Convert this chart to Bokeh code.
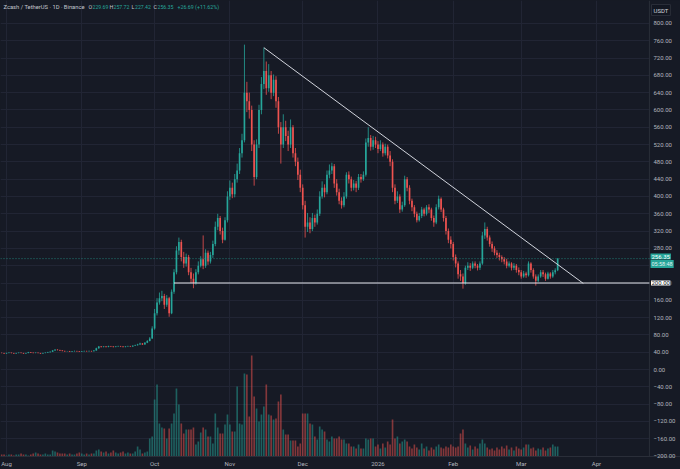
import numpy as np
import pandas as pd
from bokeh.plotting import figure
from bokeh.models import (ColumnDataSource, Range1d, FixedTicker, Label,
                          CustomJSTickFormatter, Span, BoxAnnotation)
from bokeh.embed import file_html
from bokeh.resources import INLINE

# ---------------- data ----------------
start_date = "2025-07-30"
first_open = 38.5

close_jul = [38, 37]
high_jul = [39.5, 38.5]
low_jul = [37.5, 36.5]
vol_jul = [2, 2]

close_aug = [38, 39, 38, 37, 38, 39, 38, 37, 38, 40, 39, 38, 39, 38, 37, 38, 39, 40, 41,
             44, 46, 45, 44, 43, 42, 42.4, 41, 42, 43, 42, 41]
high_aug = [39, 39.8, 39.5, 38.5, 38.7, 39.6, 39.5, 38.6, 38.8, 40.8, 40.6, 39.5, 39.7, 39.4, 38.5, 38.9, 39.8, 40.9, 42,
            45, 47.5, 47, 45.8, 44.6, 43.8, 43, 43, 42.8, 43.9, 43.5, 42.6]
low_aug = [36.5, 37.5, 37.2, 36.5, 36.6, 37.5, 37.4, 36.4, 36.7, 37.6, 38.4, 37.3, 37.6, 37.2, 36.3, 36.6, 37.5, 38.5, 39.5,
           40.5, 43.5, 44, 43, 42, 41, 41.2, 40.5, 40.7, 41.6, 41.3, 40.5]
vol_aug = [1, 2, 2, 1, 2, 2, 3, 2, 2, 1, 2, 3, 4, 3, 2, 2, 3, 2, 2, 6, 5, 4, 3, 3, 3, 2, 3, 2, 2, 3, 4]

close_sep = [42, 43, 42, 43, 42, 44, 49, 53, 52, 53, 52, 54, 53, 52, 53, 54, 53, 52, 53, 54, 53, 55,
             56, 58, 60, 58, 62, 66, 72, 95]
high_sep = [42.8, 43.8, 43.6, 44, 43.5, 44.8, 50.5, 54.5, 54, 54, 53.8, 55, 54.6, 53.8, 54, 55, 54.7, 53.6, 54, 55, 54.8, 56,
            57.5, 59.5, 62, 61, 63.5, 68, 75, 100]
low_sep = [40.6, 41.5, 41.4, 41.6, 41.2, 41.8, 43.5, 48, 51, 51.3, 51, 51.5, 52, 51, 51.4, 52.5, 52, 51, 51.3, 52.4, 52, 52.5,
           54.5, 55.5, 57.5, 57, 57.5, 61, 65, 71]
vol_sep = [3, 2, 3, 2, 3, 3, 6, 7, 5, 4, 5, 3, 4, 6, 4, 3, 4, 5, 3, 4, 3, 3, 5, 10, 7, 3, 4, 5, 18, 20]

close_oct = [130, 155, 165, 170, 150, 165, 130, 180, 225, 275, 295, 260, 245, 260, 225, 210, 200, 225, 240, 255,
             240, 270, 250, 265, 290, 330, 350, 320, 300, 345, 400]
high_oct = [140, 165, 178, 182, 175, 172, 168, 185, 232, 285, 305, 300, 272, 268, 265, 235, 222, 232, 250, 262,
            310, 278, 275, 272, 298, 342, 360, 355, 328, 352, 412]
low_oct = [92, 125, 150, 158, 140, 145, 122, 128, 175, 220, 265, 250, 235, 238, 218, 200, 188, 196, 220, 236,
           232, 235, 242, 245, 258, 285, 322, 312, 292, 298, 340]
vol_oct = [57, 72, 33, 29, 28, 18, 28, 33, 43, 68, 52, 33, 23, 27, 27, 27, 29, 12, 15, 24,
           29, 27, 20, 20, 13, 43, 29, 23, 23, 32, 42]

close_nov = [420, 405, 440, 460, 500, 530, 640, 620, 600, 520, 445, 520, 600, 660, 690, 650, 680, 640, 670, 620,
             560, 520, 560, 540, 520, 560, 500, 480, 450, 420]
high_nov = [437, 432, 452, 476, 512, 545, 751, 665, 640, 610, 530, 532, 612, 676, 744, 712, 706, 690, 682, 678,
            630, 572, 590, 575, 552, 578, 565, 512, 490, 462]
low_nov = [392, 396, 398, 432, 452, 490, 525, 595, 580, 505, 425, 440, 512, 590, 648, 635, 642, 625, 632, 605,
           545, 476, 512, 528, 505, 512, 490, 470, 438, 410]
vol_nov = [32, 25, 25, 70, 33, 32, 83, 82, 40, 101, 60, 48, 35, 42, 50, 72, 42, 41, 37, 38,
           55, 62, 27, 22, 22, 16, 16, 16, 10, 13]

close_dec = [380, 330, 340, 325, 350, 340, 360, 400, 420, 410, 450, 460, 470, 430, 410, 390, 380, 400, 450, 440,
             420, 430, 420, 445, 440, 450, 525, 535, 515, 530, 520]
high_dec = [428, 390, 362, 352, 362, 358, 370, 412, 435, 428, 460, 474, 478, 475, 440, 418, 398, 410, 456, 458,
            446, 438, 436, 452, 452, 458, 534, 560, 542, 540, 538]
low_dec = [370, 305, 318, 315, 320, 330, 335, 355, 395, 398, 405, 442, 452, 420, 402, 382, 372, 375, 395, 430,
           412, 414, 410, 415, 432, 436, 446, 515, 506, 508, 512]
vol_dec = [43, 43, 43, 33, 32, 20, 17, 30, 27, 25, 17, 15, 20, 18, 18, 20, 17, 17, 13, 13,
           10, 10, 8, 12, 8, 8, 18, 17, 18, 18, 10]

close_jan = [510, 520, 500, 515, 495, 480, 420, 390, 400, 370, 380, 440, 420, 390, 375, 360, 345, 355, 370, 360,
             375, 370, 350, 340, 375, 395, 370, 350, 320, 300, 290]
high_jan = [528, 530, 525, 522, 520, 505, 486, 428, 412, 405, 388, 448, 445, 426, 395, 380, 365, 362, 376, 374,
            380, 382, 374, 356, 382, 402, 398, 374, 355, 326, 308]
low_jan = [500, 505, 492, 495, 488, 470, 410, 382, 385, 362, 365, 376, 412, 382, 366, 352, 340, 342, 350, 354,
           356, 362, 344, 330, 336, 370, 364, 342, 312, 292, 280]
vol_jan = [12, 8, 13, 9, 15, 12, 37, 18, 20, 13, 15, 17, 15, 10, 8, 12, 9, 7, 13, 8,
           10, 6, 9, 7, 10, 12, 9, 8, 10, 9, 12]

close_feb = [260, 245, 220, 215, 200, 235, 240, 235, 245, 240, 235, 245, 310, 325, 305, 290, 280, 270, 265, 260,
             255, 250, 240, 245, 235, 240, 230, 225]
high_feb = [295, 266, 250, 230, 222, 240, 248, 246, 250, 250, 244, 250, 318, 340, 330, 310, 296, 285, 276, 270,
            264, 260, 256, 250, 248, 246, 244, 236]
low_feb = [252, 236, 210, 205, 187, 196, 230, 228, 232, 234, 229, 230, 242, 302, 298, 284, 272, 264, 258, 252,
           248, 243, 234, 236, 229, 230, 224, 218]
vol_feb = [10, 9, 10, 23, 27, 13, 9, 11, 7, 10, 8, 13, 17, 13, 9, 7, 8, 6, 9, 7,
           10, 8, 11, 7, 9, 6, 10, 8]

close_mar = [215, 222, 218, 245, 230, 215, 205, 215, 225, 220, 210, 222, 215, 225, 229.69, 256.35]
high_mar = [230, 228, 226, 250, 248, 234, 220, 220, 230, 230, 224, 226, 225, 230, 234, 257.72]
low_mar = [210, 212, 212, 215, 224, 210, 194, 202, 212, 214, 205, 208, 210, 212, 220, 227.42]
vol_mar = [7, 9, 12, 12, 8, 9, 6, 8, 7, 9, 6, 8, 9, 12, 10, 10]

# drawn annotations
trend_dates = ["2025-11-15T00:00", "2026-03-26T14:00"]
trend_prices = [744, 199]
support_dates = ["2025-10-09T00:00", "2026-04-22T19:00"]
support_prices = [200, 200]
last_price = 256.35

month_ticks = ["2025-08-01", "2025-09-01", "2025-10-01", "2025-11-01", "2025-12-01",
               "2026-01-01", "2026-02-01", "2026-03-01", "2026-04-01"]
price_ticks = list(range(-200, 801, 40))

header_name = "Zcash / TetherUS · 1D · Binance"
header_ohlc = [("O", "229.69"), ("H", "257.72"), ("L", "227.42"), ("C", "256.35")]
header_change = "+26.69 (+11.62%)"
countdown = "05:58:48"

# ---------------- assemble ----------------
close = np.array(close_jul + close_aug + close_sep + close_oct + close_nov + close_dec + close_jan + close_feb + close_mar, float)
high = np.array(high_jul + high_aug + high_sep + high_oct + high_nov + high_dec + high_jan + high_feb + high_mar, float)
low = np.array(low_jul + low_aug + low_sep + low_oct + low_nov + low_dec + low_jan + low_feb + low_mar, float)
vol = np.array(vol_jul + vol_aug + vol_sep + vol_oct + vol_nov + vol_dec + vol_jan + vol_feb + vol_mar, float)
opens = np.concatenate([[first_open], close[:-1]])
dates = pd.date_range(start_date, periods=len(close), freq="D")

UP = "#26a69a"
DOWN = "#ef5350"
BG = "#161a25"
GRID = "#212534"
TXT = "#b2b5be"

up = close >= opens
src = ColumnDataSource(dict(
    date=dates, open=opens, close=close, high=high, low=low, vol=vol,
    top=np.maximum(opens, close), bottom=np.minimum(opens, close),
    color=np.where(up, UP, DOWN),
))

day_ms = 24 * 3600 * 1000
aug1 = pd.Timestamp("2025-08-01")
x0 = aug1 - pd.Timedelta(days=2.47)
x1 = aug1 + pd.Timedelta(days=277.6)        # right edge incl. price-scale area
sep_date = aug1 + pd.Timedelta(days=264.8)  # plot / price-scale separator

p = figure(width=680, height=469, x_axis_type="datetime", y_axis_location="right",
           output_backend="svg", toolbar_location=None,
           x_range=Range1d(x0.to_pydatetime(), x1.to_pydatetime()),
           y_range=Range1d(-201, 853),
           min_border_left=0, min_border_top=0, min_border_right=0, min_border_bottom=13)
p.extra_y_ranges = {"vol": Range1d(0, 456)}
p.background_fill_color = BG
p.border_fill_color = BG
p.outline_line_color = None

# grid
p.xgrid.grid_line_color = GRID
p.ygrid.grid_line_color = GRID

# price-scale area (covers grid lines there)
p.add_layout(BoxAnnotation(left=sep_date.to_pydatetime(), fill_color=BG, fill_alpha=1.0,
                           line_color=None, level="underlay"))
p.add_layout(Span(location=sep_date.to_pydatetime(), dimension="height", line_color="#2a2e39",
                  line_width=1, level="underlay"))

# axes
month_ms = list(pd.DatetimeIndex(pd.to_datetime(month_ticks)).asi8 // 10**6)
p.xaxis.ticker = FixedTicker(ticks=[float(t) for t in month_ms])
p.xaxis.formatter = CustomJSTickFormatter(code="""
const d = new Date(tick);
const names = ["Jan","Feb","Mar","Apr","May","Jun","Jul","Aug","Sep","Oct","Nov","Dec"];
const m = d.getUTCMonth();
return m == 0 ? String(d.getUTCFullYear()) : names[m];
""")
p.yaxis.ticker = FixedTicker(ticks=price_ticks)
p.yaxis.formatter = CustomJSTickFormatter(code="""
if (Math.abs(tick - 240) < 1e-6) return "";
const s = Math.abs(tick).toFixed(2);
return tick < 0 ? "\u2212" + s : s;
""")
for ax in (p.xaxis[0], p.yaxis[0]):
    ax.major_tick_line_color = None
    ax.minor_tick_line_color = None
    ax.major_tick_out = 0
    ax.major_tick_in = 0
    ax.minor_tick_out = 0
    ax.minor_tick_in = 0
    ax.major_label_text_color = TXT
    ax.major_label_text_font = "Roboto"
    ax.major_label_text_font_size = "6px"
p.xaxis.axis_line_color = "#2a2e39"
p.yaxis.axis_line_color = None
p.yaxis.major_label_standoff = -27
p.xaxis.major_label_standoff = 3

# volume
p.vbar(x="date", width=0.68 * day_ms, top="vol", bottom=0, source=src, y_range_name="vol",
       fill_color="color", fill_alpha=0.5, line_color=None)

# candles
p.segment(x0="date", y0="low", x1="date", y1="high", source=src, line_color="color", line_width=0.8)
p.vbar(x="date", width=0.68 * day_ms, top="top", bottom="bottom", source=src,
       fill_color="color", line_color=None)

# price line
p.line(x=[x0.to_pydatetime(), sep_date.to_pydatetime()], y=[last_price, last_price],
       line_color=UP, line_alpha=0.7, line_dash="1 2", line_width=1)

# support and trend lines
p.line(x=pd.to_datetime(support_dates), y=support_prices, line_color="#e6e8ee", line_width=1)
p.line(x=pd.to_datetime(trend_dates), y=trend_prices, line_color="#d1d4dc", line_width=1)

# header
y_head = 837
p.add_layout(Label(x=3, y=y_head, x_units="screen", text=header_name, text_color="#c3c6ce",
                   text_font="Roboto", text_font_size="5.8px", text_baseline="middle"))
pos = [(88, 92), (109, 113), (131, 134.5), (153, 157)]
for (lab, val), (xl, xv) in zip(header_ohlc, pos):
    p.add_layout(Label(x=xl, y=y_head, x_units="screen", text=lab, text_color="#c3c6ce",
                       text_font="Roboto", text_font_size="5.3px", text_baseline="middle"))
    p.add_layout(Label(x=xv, y=y_head, x_units="screen", text=val, text_color=UP,
                       text_font="Roboto", text_font_size="5.2px", text_baseline="middle"))
p.add_layout(Label(x=177, y=y_head, x_units="screen", text=header_change, text_color=UP,
                   text_font="Roboto", text_font_size="5.3px", text_baseline="middle"))

# price-scale boxes
xr = 650
p.add_layout(Label(x=xr, y=261, x_units="screen", text="%.2f" % last_price, text_color="#ffffff",
                   text_font="Roboto", text_font_size="6px", text_baseline="middle",
                   background_fill_color=UP, padding=1))
p.add_layout(Label(x=xr, y=244, x_units="screen", text=countdown, text_color="#e0f2f1",
                   text_font="Roboto", text_font_size="5.5px", text_baseline="middle",
                   background_fill_color=UP, padding=1))
p.add_layout(Label(x=xr, y=200, x_units="screen", text="200.00", text_color="#131722",
                   text_font="Roboto", text_font_size="6px", text_baseline="middle",
                   background_fill_color="#ffffff", border_line_color="#131722", padding=1))
p.add_layout(Label(x=xr + 1, y=831, x_units="screen", text="USDT", text_color="#d1d4dc",
                   text_font="Roboto", text_font_size="6px", text_baseline="middle",
                   background_fill_color="#131722", border_line_color="#2a2e39", padding=2))

html = file_html(p, INLINE, title="Zcash / TetherUS")
html = html.replace("</head>", "<style>html,body{background:#161a25;}</style></head>", 1)
open("out.html", "w").write(html)
